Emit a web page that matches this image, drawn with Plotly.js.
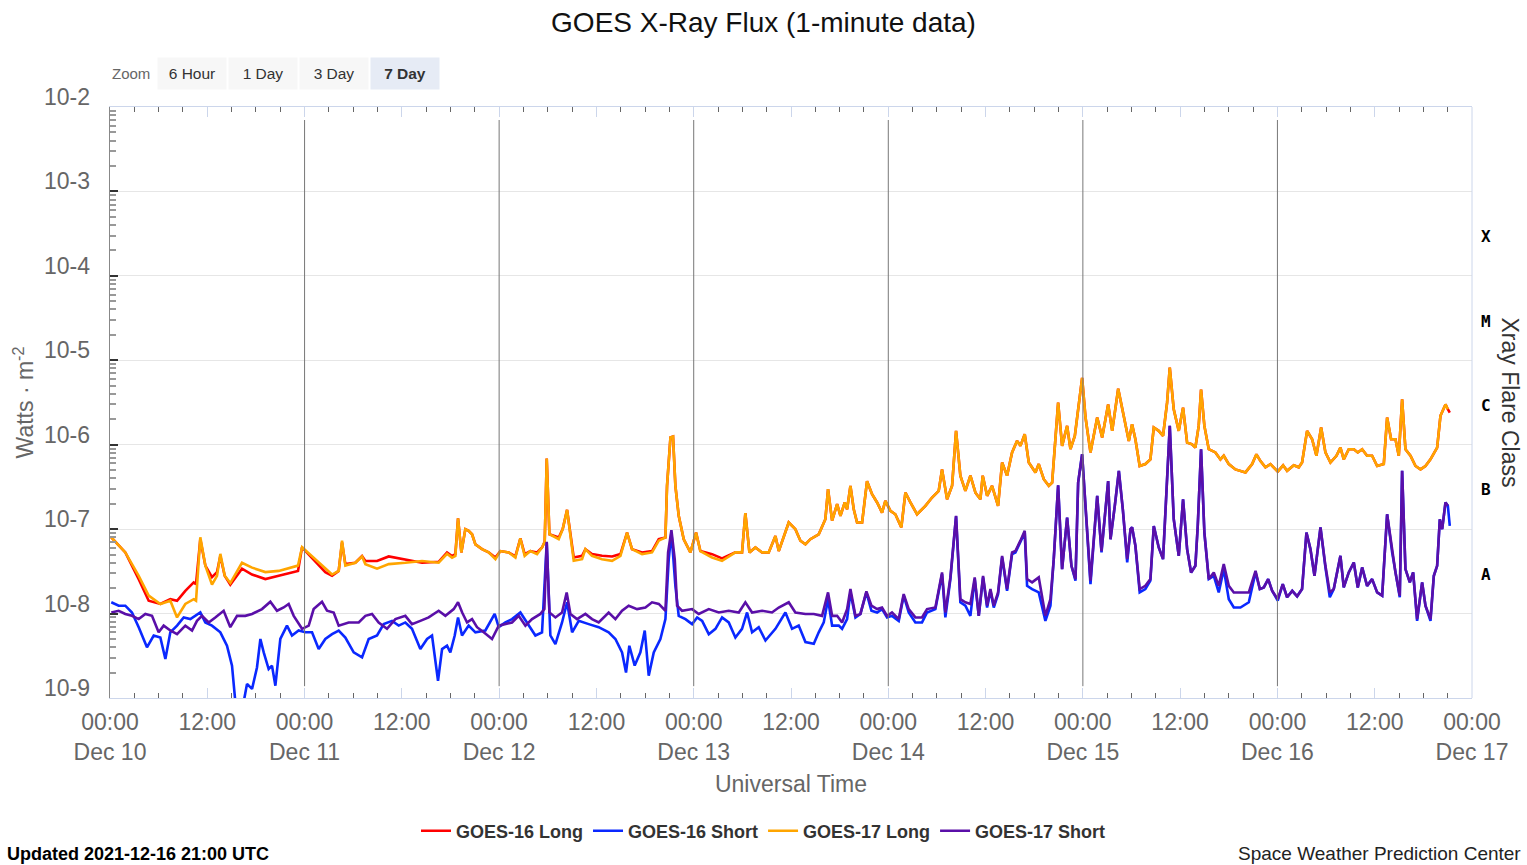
<!DOCTYPE html>
<html>
<head>
<meta charset="utf-8">
<script src="https://cdn.plot.ly/plotly-3.0.1.min.js"></script>
<style>
html,body{margin:0;padding:0;background:#fff;}
#chart{width:1527px;height:865px;}
</style>
</head>
<body>
<div id="chart"></div>
<script>
// Hours since 2021-12-10 00:00 UTC
const longHours = [
0.16,1.89,3.54,4.77,6.21,7.44,8.27,9.29,10.32,10.61,11.14,11.76,12.58,13.2,13.61,14.15,14.84,16.28,17.52,19.16,20.81,22.45,23.19,23.69,24.92,26.56,27.39,28.21,28.62,29.03,30.26,31.09,31.5,32.94,34.38,36.43,38.49,40.54,41.57,42.19,
42.6,42.93,43.34,43.83,44.24,44.66,45.07,45.89,46.71,47.54,48.15,49.18,50.0,50.62,51.15,51.85,52.68,53.29,53.62,53.87,54.2,55.35,55.84,56.38,56.79,57.2,58.23,58.64,59.45,60.69,61.93,62.96,63.78,64.39,65.63,66.86,67.69,68.51,68.71,69.13,69.45,69.74,70.15,70.77,71.59,72.29,72.82,74.26,75.49,77.14,77.96,78.37,78.87,79.61,80.43,81.25,82.08,82.49,83.72,
84.54,85.16,85.78,86.39,87.42,88.24,88.57,89.07,89.69,90.1,90.63,90.92,91.33,91.74,92.15,92.77,93.38,94.0,94.62,95.23,95.64,96.26,96.87,97.61,98.11,98.73,99.55,100.58,101.4,102.22,102.63,103.25,103.87,104.36,104.89,105.51,106.13,106.75,107.36,107.65,108.19,108.8,109.54,110.04,110.65,111.27,111.89,112.3,112.83,113.33,114.15,114.56,115.18,115.8,116.21,116.95,117.44,118.06,118.47,119.01,119.5,119.91,120.33,120.94,121.77,122.38,123.12,123.62,124.36,124.85,125.67,
126.07,126.48,127.01,127.71,128.33,128.75,129.36,129.89,130.39,130.72,131.21,131.83,132.36,132.86,133.47,133.88,134.29,134.58,134.99,135.53,136.35,136.97,137.38,138.0,138.82,140.06,140.88,141.41,141.91,142.52,143.14,144.04,144.7,145.19,146.02,146.63,147.04,147.66,148.28,148.81,149.39,149.92,150.54,151.28,151.77,152.18,152.8,153.42,153.91,154.45,155.06,155.68,156.3,157.12,157.53,158.02,158.56,158.97,159.38,159.79,160.41,161.03,161.65,162.26,162.88,163.7,164.11,164.73,165.02,165.26
];

// W/m^2
const g16Long = [
8.0e-8,5.3e-8,2.56e-8,1.42e-8,1.3e-8,1.48e-8,1.42e-8,1.86e-8,2.34e-8,2.23e-8,7.6e-8,3.7e-8,2.7e-8,3.1e-8,4.8e-8,2.8e-8,2.2e-8,3.4e-8,2.9e-8,2.56e-8,2.8e-8,3.1e-8,3.2e-8,6.1e-8,4.6e-8,3.1e-8,2.8e-8,3.2e-8,6.95e-8,3.85e-8,4.0e-8,4.8e-8,4.2e-8,4.2e-8,4.75e-8,4.4e-8,4.0e-8,4.1e-8,5.3e-8,4.8e-8,
5.06e-8,1.34e-7,5.3e-8,1.0e-7,9.55e-8,8.7e-8,6.6e-8,5.8e-8,5.3e-8,4.62e-8,5.5e-8,5.3e-8,4.75e-8,7.76e-8,5.06e-8,5.5e-8,5.3e-8,6.07e-8,7.08e-8,6.85e-7,8.7e-8,7.96e-8,1.0e-7,1.69e-7,8.3e-8,4.62e-8,4.83e-8,5.8e-8,5.06e-8,4.83e-8,4.75e-8,5.06e-8,9.1e-8,5.8e-8,5.3e-8,5.5e-8,7.6e-8,7.96e-8,3.26e-7,1.22e-6,1.25e-6,3.26e-7,1.44e-7,7.6e-8,5.3e-8,9.1e-8,5.5e-8,5.06e-8,4.5e-8,5.3e-8,5.3e-8,1.55e-7,5.3e-8,6.07e-8,5.3e-8,5.3e-8,8.3e-8,5.5e-8,1.2e-7,
1.0e-7,7.3e-8,6.6e-8,7.6e-8,8.7e-8,1.31e-7,2.97e-7,1.26e-7,1.98e-7,1.44e-7,2.07e-7,1.72e-7,3.26e-7,1.72e-7,1.2e-7,1.2e-7,3.7e-7,2.6e-7,2.07e-7,1.57e-7,2.16e-7,1.65e-7,1.5e-7,1.05e-7,2.7e-7,2.07e-7,1.5e-7,1.89e-7,2.37e-7,2.84e-7,5.1e-7,2.26e-7,3.26e-7,1.46e-6,4.3e-7,2.84e-7,4.3e-7,2.7e-7,2.26e-7,4.3e-7,2.48e-7,3.26e-7,1.89e-7,6.15e-7,4.3e-7,8.1e-7,1.11e-6,9.7e-7,1.33e-6,6.15e-7,4.7e-7,5.9e-7,3.9e-7,3.26e-7,3.56e-7,3.15e-6,9.7e-7,1.67e-6,8.85e-7,1.27e-6,3.15e-6,6.2e-6,2.1e-6,8.1e-7,2.1e-6,1.22e-6,3.0e-6,1.46e-6,4.6e-6,2.63e-6,1.11e-6,
1.75e-6,1.16e-6,5.6e-7,5.9e-7,6.7e-7,1.6e-6,1.46e-6,1.27e-6,3.15e-6,8.2e-6,2.63e-6,1.46e-6,2.75e-6,1.06e-6,1.01e-6,9.25e-7,1.67e-6,4.5e-6,1.67e-6,8.85e-7,8.1e-7,6.7e-7,7.4e-7,5.9e-7,5.1e-7,4.7e-7,5.9e-7,7.7e-7,6.4e-7,5.4e-7,5.9e-7,4.8e-7,5.7e-7,4.9e-7,5.7e-7,5.4e-7,6.15e-7,1.46e-6,1.16e-6,7.4e-7,1.6e-6,8.1e-7,6.15e-7,7.4e-7,9.25e-7,6.7e-7,8.85e-7,8.85e-7,8.1e-7,8.85e-7,7.4e-7,7.4e-7,5.6e-7,5.9e-7,2.1e-6,1.16e-6,1.16e-6,7.4e-7,3.45e-6,8.85e-7,7.4e-7,5.6e-7,5.1e-7,5.6e-7,6.7e-7,9.25e-7,2.2e-6,3.0e-6,2.63e-6,2.4e-6
];

const g17Long = [
8.0e-8,5.3e-8,2.8e-8,1.63e-8,1.3e-8,1.42e-8,9.0e-9,1.3e-8,1.48e-8,1.42e-8,8.0e-8,3.7e-8,2.2e-8,2.8e-8,5.1e-8,2.8e-8,2.3e-8,4.0e-8,3.5e-8,3.1e-8,3.2e-8,3.5e-8,3.7e-8,6.1e-8,4.8e-8,3.4e-8,2.9e-8,3.2e-8,7.3e-8,3.7e-8,4.0e-8,4.75e-8,3.85e-8,3.4e-8,3.85e-8,4.0e-8,4.2e-8,4.0e-8,5.1e-8,4.6e-8,
4.83e-8,1.34e-7,5.3e-8,1.0e-7,9.55e-8,8.7e-8,6.6e-8,5.8e-8,5.3e-8,4.41e-8,5.5e-8,5.3e-8,4.62e-8,7.76e-8,4.83e-8,5.5e-8,5.06e-8,6.07e-8,7.08e-8,6.85e-7,8.7e-8,7.6e-8,1.0e-7,1.69e-7,8.3e-8,4.22e-8,4.41e-8,5.8e-8,4.83e-8,4.41e-8,4.22e-8,4.83e-8,9.1e-8,5.8e-8,5.06e-8,5.3e-8,7.3e-8,7.96e-8,3.26e-7,1.22e-6,1.25e-6,3.26e-7,1.44e-7,7.6e-8,5.3e-8,9.1e-8,5.5e-8,4.62e-8,4.22e-8,5.3e-8,5.3e-8,1.55e-7,5.3e-8,6.07e-8,5.3e-8,5.3e-8,8.3e-8,5.5e-8,1.2e-7,
1.0e-7,7.3e-8,6.6e-8,7.6e-8,8.7e-8,1.31e-7,2.97e-7,1.26e-7,1.98e-7,1.44e-7,2.07e-7,1.72e-7,3.26e-7,1.72e-7,1.2e-7,1.2e-7,3.7e-7,2.6e-7,2.07e-7,1.57e-7,2.16e-7,1.65e-7,1.5e-7,1.05e-7,2.7e-7,2.07e-7,1.5e-7,1.89e-7,2.37e-7,2.84e-7,5.1e-7,2.26e-7,3.26e-7,1.46e-6,4.3e-7,2.84e-7,4.3e-7,2.7e-7,2.26e-7,4.3e-7,2.48e-7,3.26e-7,1.89e-7,6.15e-7,4.3e-7,8.1e-7,1.11e-6,9.7e-7,1.33e-6,6.15e-7,4.7e-7,5.9e-7,3.9e-7,3.26e-7,3.56e-7,3.15e-6,9.7e-7,1.67e-6,8.85e-7,1.27e-6,3.15e-6,6.2e-6,2.1e-6,8.1e-7,2.1e-6,1.22e-6,3.0e-6,1.46e-6,4.6e-6,2.63e-6,1.11e-6,
1.75e-6,1.16e-6,5.6e-7,5.9e-7,6.7e-7,1.6e-6,1.46e-6,1.27e-6,3.15e-6,8.2e-6,2.63e-6,1.46e-6,2.75e-6,1.06e-6,1.01e-6,9.25e-7,1.67e-6,4.5e-6,1.67e-6,8.85e-7,8.1e-7,6.7e-7,7.4e-7,5.9e-7,5.1e-7,4.7e-7,5.9e-7,7.7e-7,6.4e-7,5.4e-7,5.9e-7,4.8e-7,5.7e-7,4.9e-7,5.7e-7,5.4e-7,6.15e-7,1.46e-6,1.16e-6,7.4e-7,1.6e-6,8.1e-7,6.15e-7,7.4e-7,9.25e-7,6.7e-7,8.85e-7,8.85e-7,8.1e-7,8.85e-7,7.4e-7,7.4e-7,5.6e-7,5.9e-7,2.1e-6,1.16e-6,1.16e-6,7.4e-7,3.45e-6,8.85e-7,7.4e-7,5.6e-7,5.1e-7,5.6e-7,6.7e-7,9.25e-7,2.2e-6,3.0e-6,2.63e-6,null
];

const g16ShortHours = [
0.16,1.07,1.89,2.71,3.54,4.56,5.39,6.21,6.83,7.44,8.27,9.09,9.91,11.14,11.76,12.58,13.61,14.43,15.05,15.46,16.49,16.9,17.52,18.13,18.55,18.96,19.57,19.98,20.4,21.01,21.83,22.45,23.27,24.1,24.92,25.74,26.56,27.39,28.21,29.03,30.06,31.09,31.91,32.94,33.76,34.79,35.61,36.43,37.25,38.28,39.11,39.72,40.46,40.96,41.57,41.98,42.52,
42.93,43.42,44.24,45.07,46.3,47.45,47.95,48.77,49.59,50.62,51.44,52.47,53.29,53.87,54.32,54.94,55.76,56.38,57.0,57.82,59.05,60.28,61.51,62.34,63.16,63.65,64.06,64.72,65.42,65.96,66.45,67.07,67.89,68.51,68.92,69.25,69.74,70.15,70.98,71.8,72.42,73.04,73.86,74.68,75.5,76.32,77.14,77.96,78.58,79.2,80.02,80.85,82.08,83.31,84.13,
84.95,85.78,86.81,87.42,88.04,88.57,89.07,89.89,90.3,90.92,91.33,91.95,92.56,93.3,93.92,94.62,95.23,95.85,96.46,97.29,97.9,98.52,99.34,100.16,100.78,101.81,102.63,103.04,103.66,104.36,104.89,105.51,106.13,106.66,107.16,107.69,108.19,108.6,109.01,109.54,110.04,110.65,111.27,111.68,112.3,112.83,113.12,113.74,114.56,115.38,116.0,116.41,116.95,117.44,118.06,118.59,119.09,119.42,119.91,120.33,120.94,121.77,122.3,123.12,123.41,123.94,124.44,124.93,125.47,125.88,
126.07,126.48,127.01,127.71,128.33,128.75,129.36,129.89,130.18,130.72,131.21,131.83,132.36,132.86,133.35,133.88,134.17,134.58,134.99,135.53,136.15,136.76,137.38,138.0,138.62,139.44,140.47,141.3,141.83,142.32,142.86,143.35,144.04,144.66,145.19,145.83,146.43,147.04,147.58,148.07,148.57,149.31,149.92,150.46,150.95,151.77,152.18,152.8,153.42,153.91,154.45,155.06,155.68,156.3,156.92,157.53,158.15,158.56,159.09,159.38,159.79,160.33,160.74,161.23,161.85,162.26,162.88,163.29,163.7,164.03,164.32,164.73,165.02,165.26
];

const g16Short = [
1.36e-8,1.24e-8,1.24e-8,1.03e-8,6.9e-9,3.98e-9,5.5e-9,5.2e-9,2.9e-9,6.0e-9,7.2e-9,9.0e-9,8.6e-9,1.03e-8,7.85e-9,7.2e-9,6.0e-9,4.16e-9,2.42e-9,9e-10,9e-10,1.47e-9,1.28e-9,2.3e-9,5.0e-9,3.47e-9,2.2e-9,2.42e-9,1.4e-9,5.0e-9,7.2e-9,5.5e-9,6.3e-9,6.0e-9,6.0e-9,3.8e-9,5.0e-9,5.7e-9,6.3e-9,5.2e-9,3.47e-9,3.03e-9,5.0e-9,5.5e-9,7.5e-9,8.2e-9,7.2e-9,7.85e-9,6.6e-9,3.8e-9,5.0e-9,5.5e-9,1.6e-9,3.8e-9,4.16e-9,3.47e-9,5.5e-9,
9.0e-9,5.5e-9,7.2e-9,6.0e-9,6.3e-9,9.9e-9,6.9e-9,7.85e-9,8.6e-9,1.03e-8,7.85e-9,5.5e-9,6.0e-9,6.95e-8,5.5e-9,4.35e-9,7.85e-9,1.36e-8,6.0e-9,8.2e-9,7.5e-9,6.9e-9,6.0e-9,5.0e-9,3.47e-9,2.0e-9,4.16e-9,2.42e-9,3.47e-9,6.3e-9,1.84e-9,3.47e-9,5.0e-9,8.6e-9,4.41e-8,9.1e-8,2.13e-8,9.4e-9,8.6e-9,7.5e-9,9.0e-9,8.2e-9,5.7e-9,6.6e-9,9.0e-9,7.85e-9,5.2e-9,6.6e-9,1.03e-8,6.0e-9,6.9e-9,4.8e-9,6.6e-9,1.03e-8,6.6e-9,
7.2e-9,4.6e-9,4.4e-9,6.0e-9,7.85e-9,1.48e-8,7.2e-9,7.2e-9,6.6e-9,8.6e-9,1.78e-8,9.0e-9,9.9e-9,1.78e-8,1.08e-8,1.03e-8,1.13e-8,9.0e-9,9.4e-9,8.2e-9,1.63e-8,1.03e-8,7.85e-9,7.85e-9,1.03e-8,1.13e-8,2.93e-8,9.0e-9,2.56e-8,1.42e-7,1.36e-8,1.24e-8,9.4e-9,2.56e-8,9.4e-9,2.68e-8,1.18e-8,1.86e-8,1.18e-8,1.7e-8,4.62e-8,1.86e-8,5.06e-8,5.3e-8,6.95e-8,9.1e-8,2.13e-8,1.95e-8,1.78e-8,8.2e-9,1.24e-8,4.41e-8,3.3e-7,3.36e-8,1.37e-7,3.68e-8,2.45e-8,3.56e-7,7.7e-7,1.89e-7,2.23e-8,2.48e-7,5.3e-8,3.7e-7,7.6e-8,1.89e-7,4.9e-7,1.72e-7,4.03e-8,1.0e-7,
1.05e-7,6.35e-8,1.78e-8,1.95e-8,2.45e-8,1.09e-7,6.07e-8,4.41e-8,1.5e-7,1.67e-6,1.31e-7,4.83e-8,2.26e-7,5.8e-8,3.07e-8,3.68e-8,1.09e-7,8.85e-7,9.1e-8,2.56e-8,2.8e-8,1.78e-8,3.36e-8,1.48e-8,1.18e-8,1.18e-8,1.36e-8,3.07e-8,1.95e-8,2.04e-8,2.56e-8,1.86e-8,1.42e-8,2.23e-8,1.56e-8,1.86e-8,1.6e-8,1.95e-8,9.1e-8,5.8e-8,2.8e-8,1.05e-7,3.52e-8,1.56e-8,1.95e-8,4.83e-8,2.04e-8,3.07e-8,4.03e-8,2.04e-8,3.52e-8,2.13e-8,2.56e-8,1.78e-8,1.63e-8,1.5e-7,5.3e-8,3.07e-8,1.56e-8,4.9e-7,3.36e-8,2.34e-8,3.07e-8,8.2e-9,2.34e-8,1.24e-8,8.2e-9,2.8e-8,3.68e-8,1.31e-7,1.0e-7,2.07e-7,1.89e-7,1.09e-7
];

const g17ShortHours = [
0.16,1.07,1.89,2.71,3.54,4.36,5.18,6.0,6.62,7.44,8.27,9.29,10.12,10.73,11.35,12.17,12.99,14.02,14.84,15.67,16.69,17.52,18.75,19.78,20.6,21.42,22.04,22.66,23.69,24.51,25.12,26.15,26.77,27.59,28.21,29.44,30.68,31.5,32.32,33.14,34.17,35.2,36.43,37.25,38.28,39.31,40.54,41.37,42.4,
42.93,43.44,44.04,44.66,45.27,46.1,47.12,47.95,48.77,49.59,50.41,51.24,52.06,53.09,53.58,53.87,54.2,54.94,55.76,56.33,56.79,57.61,58.64,59.46,60.28,61.51,62.34,63.16,63.98,65.01,66.04,66.86,67.69,68.51,68.84,69.25,69.66,69.95,70.56,71.8,72.62,73.86,75.09,76.32,77.56,78.37,79.2,80.43,81.66,82.49,83.72,
84.54,85.78,86.81,87.83,88.57,89.07,89.69,90.3,90.92,91.33,91.95,92.56,93.3,93.92,94.62,95.23,95.85,96.46,97.29,97.9,98.52,99.34,100.16,100.78,101.81,102.63,103.04,103.66,104.36,104.89,105.51,106.13,106.66,107.16,107.69,108.19,108.6,109.01,109.54,110.04,110.65,111.27,111.68,112.3,112.83,113.12,113.74,114.56,115.38,116.0,116.41,116.95,117.44,118.06,118.59,119.09,119.42,119.91,120.33,120.94,121.77,122.3,123.12,123.41,123.94,124.44,124.93,125.47,125.88,
126.07,126.48,127.01,127.71,128.33,128.75,129.36,129.89,130.18,130.72,131.21,131.83,132.36,132.86,133.35,133.88,134.17,134.58,134.99,135.53,136.15,136.76,137.38,138.0,138.62,139.44,140.47,141.3,141.83,142.32,142.86,143.35,144.04,144.66,145.19,145.83,146.43,147.04,147.58,148.07,148.57,149.31,149.92,150.46,150.95,151.77,152.18,152.8,153.42,153.91,154.45,155.06,155.68,156.3,156.92,157.53,158.15,158.56,159.09,159.38,159.79,160.33,160.74,161.23,161.85,162.26,162.88,163.29,163.7,164.03,164.32,164.73,165.02
];

const g17Short = [
1.03e-8,1.08e-8,9.9e-9,9.4e-9,8.6e-9,9.9e-9,9.4e-9,6.0e-9,7.2e-9,6.3e-9,5.7e-9,7.2e-9,6.3e-9,8.2e-9,9.4e-9,7.85e-9,9.0e-9,1.08e-8,6.9e-9,9.4e-9,9.4e-9,9.9e-9,1.13e-8,1.38e-8,1.08e-8,1.18e-8,1.3e-8,9.4e-9,6.6e-9,7.2e-9,1.13e-8,1.38e-8,1.08e-8,1.03e-8,7.2e-9,7.85e-9,7.85e-9,9.4e-9,9.9e-9,7.85e-9,6.6e-9,8.6e-9,9.4e-9,7.5e-9,8.2e-9,9.0e-9,1.08e-8,9.4e-9,1.13e-8,
1.36e-8,1.03e-8,7.85e-9,8.6e-9,6.9e-9,6.0e-9,5.0e-9,7.2e-9,7.5e-9,7.85e-9,9.4e-9,7.2e-9,8.6e-9,9.9e-9,1.13e-8,7.1e-8,1.03e-8,9.0e-9,1.03e-8,1.78e-8,9.9e-9,8.6e-9,9.9e-9,8.6e-9,7.85e-9,1.03e-8,8.6e-9,1.08e-8,1.24e-8,1.13e-8,1.18e-8,1.36e-8,1.3e-8,1.08e-8,5.3e-8,9.7e-8,4.4e-8,1.24e-8,1.08e-8,1.13e-8,9.9e-9,1.13e-8,1.03e-8,1.08e-8,1.03e-8,1.36e-8,1.03e-8,1.08e-8,1.03e-8,1.18e-8,1.36e-8,
1.03e-8,9.9e-9,9.9e-9,9.4e-9,1.78e-8,9.4e-9,9.4e-9,7.85e-9,1.13e-8,1.95e-8,9.4e-9,9.9e-9,1.83e-8,1.24e-8,1.13e-8,1.18e-8,9.4e-9,1.03e-8,8.6e-9,1.7e-8,1.13e-8,9.0e-9,9.0e-9,1.13e-8,1.18e-8,3.07e-8,1.03e-8,2.68e-8,1.44e-7,1.48e-8,1.36e-8,1.3e-8,2.68e-8,9.4e-9,2.8e-8,1.24e-8,1.95e-8,1.24e-8,1.78e-8,4.83e-8,1.95e-8,5.3e-8,5.5e-8,7.3e-8,9.55e-8,2.56e-8,2.34e-8,2.68e-8,9.4e-9,1.48e-8,4.41e-8,3.3e-7,3.36e-8,1.37e-7,3.68e-8,2.56e-8,3.56e-7,7.7e-7,1.89e-7,2.45e-8,2.48e-7,5.5e-8,3.7e-7,7.6e-8,1.89e-7,4.9e-7,1.72e-7,4.41e-8,1.0e-7,
1.05e-7,6.35e-8,1.95e-8,2.13e-8,2.56e-8,1.09e-7,6.07e-8,4.41e-8,1.5e-7,1.67e-6,1.31e-7,4.83e-8,2.26e-7,5.8e-8,3.07e-8,3.68e-8,1.09e-7,8.85e-7,9.1e-8,2.56e-8,3.07e-8,2.13e-8,3.85e-8,2.13e-8,1.78e-8,1.78e-8,1.78e-8,3.21e-8,1.95e-8,2.04e-8,2.56e-8,1.86e-8,1.48e-8,2.23e-8,1.56e-8,1.86e-8,1.6e-8,1.95e-8,9.1e-8,5.8e-8,2.8e-8,1.05e-7,3.68e-8,1.78e-8,1.95e-8,4.83e-8,2.04e-8,3.07e-8,4.03e-8,2.04e-8,3.52e-8,2.13e-8,2.56e-8,1.78e-8,1.63e-8,1.5e-7,5.3e-8,3.07e-8,1.63e-8,4.9e-7,3.36e-8,2.34e-8,3.07e-8,8.6e-9,2.34e-8,1.24e-8,8.6e-9,2.8e-8,3.68e-8,1.31e-7,1.0e-7,2.07e-7,1.89e-7
];

const seriesNames = ['GOES-16 Long','GOES-16 Short','GOES-17 Long','GOES-17 Short'];
const seriesColors = ['#ff0000','#0a28ff','#ffa500','#5a0fa8'];

const xTickHours = [0,12,24,36,48,60,72,84,96,108,120,132,144,156,168];
const xTickLabels = ['00:00<br>Dec 10','12:00','00:00<br>Dec 11','12:00','00:00<br>Dec 12','12:00','00:00<br>Dec 13','12:00','00:00<br>Dec 14','12:00','00:00<br>Dec 15','12:00','00:00<br>Dec 16','12:00','00:00<br>Dec 17'];
const dayLineHours = [24,48,72,96,120,144];

const yTickExp = [-2,-3,-4,-5,-6,-7,-8,-9];
const yTickLabels = ['10-2','10-3','10-4','10-5','10-6','10-7','10-8','10-9'];

const flareClasses = ['X','M','C','B','A'];
const flareClassMid = [-3.5,-4.5,-5.5,-6.5,-7.5];

const zoomButtons = ['6 Hour','1 Day','3 Day','7 Day'];
const activeZoom = '7 Day';

const BASE = Date.UTC(2021, 11, 10);
const toMs = h => BASE + h * 3600000;

const FONT = 'Liberation Sans, Arial, sans-serif';

const xs = [longHours.map(toMs), g16ShortHours.map(toMs), longHours.map(toMs), g17ShortHours.map(toMs)];
const ys = [g16Long, g16Short, g17Long, g17Short];

const traces = seriesNames.map((n, i) => ({
  type: 'scatter', mode: 'lines', name: n,
  x: xs[i], y: ys[i],
  line: {color: seriesColors[i], width: 2.6},
  hoverinfo: 'x+y+name'
}));

const shapes = dayLineHours.map(h => ({
  type: 'line', xref: 'x', yref: 'paper', x0: toMs(h), x1: toMs(h), y0: 0.02, y1: 0.978,
  line: {color: '#777', width: 1}
}));
shapes.push({type:'line', xref:'paper', yref:'paper', x0:1, x1:1, y0:0, y1:1, line:{color:'#ccd6eb', width:1}});

const annotations = [];
yTickExp.forEach((e, i) => annotations.push({
  xref:'paper', yref:'y', x:0, y:e, xanchor:'right', yanchor:'middle', xshift:-18, yshift:10,
  text: yTickLabels[i], showarrow:false, font:{family:FONT, size:23, color:'#666'}
}));
flareClasses.forEach((c, i) => annotations.push({
  xref:'paper', yref:'y', x:1, y:flareClassMid[i], xanchor:'center', yanchor:'middle', xshift:14, yshift:-3,
  text: c, showarrow:false, font:{family:'DejaVu Sans Mono, monospace', size:16, color:'#000', weight:700}
}));
annotations.push({
  xref:'paper', yref:'paper', x:1, y:0.5, xshift:38, xanchor:'center', yanchor:'middle',
  text:'Xray Flare Class', textangle:90, showarrow:false, font:{family:FONT, size:23, color:'#333'}
});
annotations.push({
  xref:'paper', yref:'paper', x:0, y:(698-74)/591, xanchor:'left', yanchor:'middle',
  text:'Zoom', showarrow:false, font:{family:FONT, size:15, color:'#666'}
});
const btnCenters = [192, 262.5, 333.5, 404.5];
zoomButtons.forEach((b, i) => annotations.push({
  xref:'paper', yref:'paper', x:(btnCenters[i]-110)/1362, y:(698-74)/591, xanchor:'center', yanchor:'middle',
  text: b === activeZoom ? '<b>' + b + '</b>' : b, showarrow:false,
  width:68, height:31, borderpad:0, bgcolor: b === activeZoom ? '#e6ebf5' : '#f7f7f7',
  font:{family:FONT, size:15.5, color:'#333'}
}));
annotations.push({
  xref:'paper', yref:'paper', x:(5-110)/1362, y:(698-854)/591, xanchor:'left', yanchor:'middle',
  text:'<b>Updated 2021-12-16 21:00 UTC</b>', showarrow:false, font:{family:FONT, size:18, color:'#000'}
});
annotations.push({
  xref:'paper', yref:'paper', x:(1523-110)/1362, y:(698-853)/591, xanchor:'right', yanchor:'middle',
  text:'Space Weather Prediction Center', showarrow:false, font:{family:FONT, size:19, color:'#222'}
});

const layout = {
  width: 1527, height: 865,
  margin: {l:110, r:55, t:107, b:167},
  paper_bgcolor:'#fff', plot_bgcolor:'#fff',
  font: {family: FONT},
  title: {text:'GOES X-Ray Flux (1-minute data)', x:0.5, xref:'container', y:1-22/865, yref:'container', yanchor:'middle', xanchor:'center',
          font:{family:FONT, size:28, color:'#111'}},
  showlegend: true,
  legend: {orientation:'h', xref:'container', yref:'container', x:0.5, xanchor:'center', y:1-831/865, yanchor:'middle',
           font:{family:FONT, size:18, color:'#333', weight:700}, itemwidth:30, tracegroupgap:0},
  xaxis: {
    type:'date', range:[toMs(0), toMs(168)],
    tickmode:'array', tickvals: xTickHours.map(toMs), ticktext: xTickLabels,
    ticks:'inside', ticklen:10, tickcolor:'#ccd6eb', tickwidth:1,
    tickfont:{family:FONT, size:23, color:'#666'}, ticklabelstandoff:3,
    showline:true, linecolor:'#ccd6eb', linewidth:1, mirror:'ticks',
    showgrid:false, zeroline:false,
    minor:{dtick: 3*3600000, tick0: toMs(0), ticks:'inside', ticklen:5, tickcolor:'#666', showgrid:false},
    title:{text:'Universal Time', font:{family:FONT, size:23, color:'#666'}, standoff:12}
  },
  yaxis: {
    type:'log', range:[-9,-2],
    tickmode:'linear', tick0:0, dtick:1, showticklabels:false,
    ticks:'inside', ticklen:8, tickwidth:2, tickcolor:'#333',
    showgrid:true, gridcolor:'#e6e6e6', gridwidth:1, zeroline:false,
    showline:true, linecolor:'#888', linewidth:1,
    minor:{dtick:'D1', ticks:'inside', ticklen:6, tickcolor:'#999', showgrid:false},
    title:{text:'Watts · m<sup>-2</sup>', font:{family:FONT, size:23, color:'#666'}, standoff:68}
  },
  shapes: shapes,
  annotations: annotations
};

Plotly.newPlot('chart', traces, layout, {displayModeBar:false, responsive:false});
</script>
</body>
</html>
